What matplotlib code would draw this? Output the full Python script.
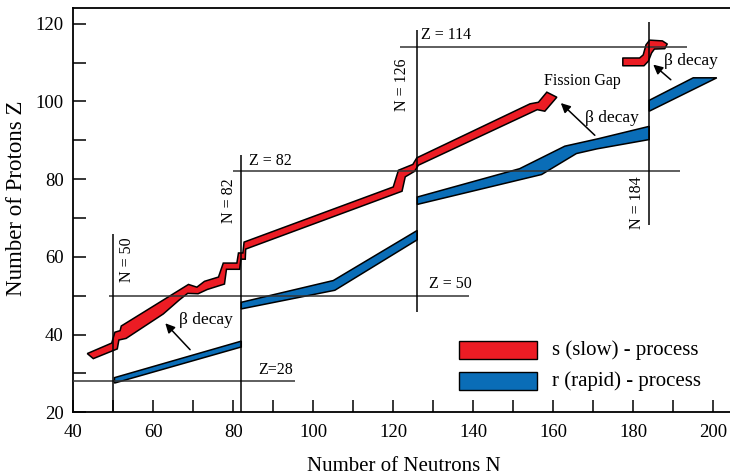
import matplotlib
matplotlib.use("Agg")
import matplotlib.pyplot as plt
from matplotlib.patches import Rectangle

plt.rcParams['font.family'] = ['Liberation Serif', 'DejaVu Serif']

# ---- s-process path (upper edge left->right, lower edge right->left) ----
s_upper_n = [43.5, 49.6, 50.4, 51.7, 52.0, 68.8, 70.9, 72.8, 76.3, 77.5, 80.9,
             81.3, 82.4, 82.7, 120.0, 121.3, 124.9, 125.9, 154.2, 156.3, 158.4, 160.9]
s_upper_z = [35.1, 37.8, 40.6, 41.0, 42.2, 52.9, 52.2, 53.7, 54.8, 58.4, 58.4,
             61.0, 61.0, 63.8, 78.0, 82.3, 83.8, 85.5, 99.4, 99.8, 102.4, 101.1]
s_lower_n = [157.9, 156.0, 126.3, 125.3, 123.0, 122.2, 83.1, 83.0, 81.9, 81.6, 78.3,
             77.8, 73.5, 71.2, 68.6, 66.5, 62.5, 53.2, 51.4, 51.0, 45.0]
s_lower_z = [97.5, 97.9, 83.6, 82.0, 80.6, 76.9, 62.0, 59.4, 59.4, 56.8, 56.8,
             53.0, 51.6, 50.5, 50.6, 48.9, 45.3, 39.0, 38.6, 36.3, 33.8]

# superheavy island beyond the fission gap
s_island_n = [177.4, 181.6, 182.5, 183.2, 184.1, 187.3, 188.5, 187.9, 185.3, 184.6,
              183.8, 182.7, 177.4]
s_island_z = [111.2, 111.2, 112.0, 114.6, 115.8, 115.6, 114.8, 113.6, 113.5, 112.5,
              110.4, 109.2, 109.2]

# ---- r-process path segments ----
r1_n = [50.3, 82.0, 82.0, 50.3]
r1_z = [28.9, 38.3, 36.8, 27.5]
r2_n = [82.0, 105.0, 126.0, 126.0, 105.4, 82.0]
r2_z = [48.3, 53.9, 66.8, 64.4, 51.4, 46.6]
r3_n = [126.0, 151.6, 162.9, 171.2, 184.0, 184.0, 170.9, 165.8, 157.1, 126.0]
r3_z = [75.4, 82.7, 88.5, 90.4, 93.6, 90.2, 87.8, 86.6, 81.2, 73.5]
r4_n = [184.0, 195.0, 200.9, 184.0]
r4_z = [100.3, 106.1, 106.1, 97.5]

# ---- magic numbers ----
magic_z = [28, 50, 82, 114]
magic_z_start = [40, 49, 80, 121.7]
magic_z_end = [95.4, 139, 191.7, 193.4]
magic_z_labels = ["Z=28", "Z = 50", "Z = 82", "Z = 114"]

magic_n = [50, 82, 126, 184]
magic_n_start = [20, 20, 45.8, 68.3]
magic_n_end = [65.8, 86.1, 118.3, 120.4]
magic_n_labels = ["N = 50", "N = 82", "N = 126", "N = 184"]

x_ticks = list(range(40, 201, 10))
x_tick_labels = [str(v) if v % 20 == 0 else "" for v in x_ticks]
y_ticks = list(range(20, 121, 10))
y_tick_labels = [str(v) if v % 20 == 0 else "" for v in y_ticks]

S_RED = "#ec1c24"
R_BLUE = "#0a6db7"

fig = plt.figure(figsize=(7.3, 4.76), dpi=100)
ax = fig.add_axes([0.1004, 0.134, 0.8996, 0.8486])
ax.set_xlim(40, 204.2)
ax.set_ylim(20, 124)

# bands
ax.fill(s_upper_n + s_lower_n, s_upper_z + s_lower_z, facecolor=S_RED,
        edgecolor="black", lw=1.1, zorder=2)
ax.fill(s_island_n, s_island_z, facecolor=S_RED, edgecolor="black", lw=1.1,
        joinstyle="round", zorder=2)
for rn, rz in [(r1_n, r1_z), (r2_n, r2_z), (r3_n, r3_z), (r4_n, r4_z)]:
    ax.fill(rn, rz, facecolor=R_BLUE, edgecolor="black", lw=1.1, zorder=2)

# magic-number guide lines
line_color = "#333333"
ax.hlines(magic_z, magic_z_start, magic_z_end, color=line_color, lw=1.1, zorder=3)
ax.vlines(magic_n, magic_n_start, magic_n_end, color="black", lw=1.1, zorder=3)

txt = dict(fontsize=11.5, color="black", zorder=4)
z_label_pos = [(90.7, 30.8), (134.2, 52.9), (89.2, 84.8), (133.2, 117.0)]
for lab, (xn, yz) in zip(magic_z_labels, z_label_pos):
    ax.text(xn, yz, lab, ha="center", va="center", **txt)
n_label_pos = [(53.4, 59.3), (78.9, 74.5), (122.2, 104.4), (180.9, 74.0)]
for lab, (xn, yz) in zip(magic_n_labels, n_label_pos):
    ax.text(xn, yz, lab, ha="center", va="center", rotation=90, **txt)

ax.text(167.4, 105.2, "Fission Gap", ha="center", va="center", **txt)

# beta-decay arrows
decay_tails = [(69.2, 36.1), (170.4, 91.3), (189.4, 105.6)]
decay_heads = [(63.0, 42.9), (161.9, 99.6), (185.0, 109.5)]
decay_text = [(73.2, 43.7), (174.7, 95.7), (194.4, 110.3)]
for tail, head, tpos in zip(decay_tails, decay_heads, decay_text):
    ax.annotate("", xy=head, xytext=tail,
                arrowprops=dict(arrowstyle="-|>", color="black", lw=1.1,
                                mutation_scale=14, shrinkA=0, shrinkB=0),
                zorder=4)
    ax.text(tpos[0], tpos[1], "β decay", ha="center", va="center", fontsize=12.5,
            zorder=4)

# legend drawn as boxes
legend_items = [("s (slow) - process", S_RED, 0.1317), ("r (rapid) - process", R_BLUE, 0.055)]
for label, col, yb in legend_items:
    ax.add_patch(Rectangle((0.5873, yb), 0.1188, 0.0456, transform=ax.transAxes,
                           facecolor=col, edgecolor="black", lw=1.0, zorder=4))
    ax.text(0.729, yb + 0.0228, label, transform=ax.transAxes, ha="left",
            va="center", fontsize=15, zorder=4)

# axes styling
for side in ["left", "bottom", "top"]:
    ax.spines[side].set_linewidth(1.3)
ax.spines["right"].set_visible(False)
ax.set_xticks(x_ticks)
ax.set_xticklabels(x_tick_labels)
ax.set_yticks(y_ticks)
ax.set_yticklabels(y_tick_labels)
ax.tick_params(direction="in", length=9, width=1.1, labelsize=13.5)
ax.tick_params(axis="x", pad=8.5)
ax.tick_params(axis="y", pad=7)

fig.text(404 / 730, 1 - 471 / 476, "Number of Neutrons N", ha="center",
         va="baseline", fontsize=15)
fig.text(17 / 730, 1 - 198 / 476, "Number of Protons Z", ha="center",
         va="center", rotation=90, fontsize=16.5)

fig.savefig("out.png", dpi=100)
